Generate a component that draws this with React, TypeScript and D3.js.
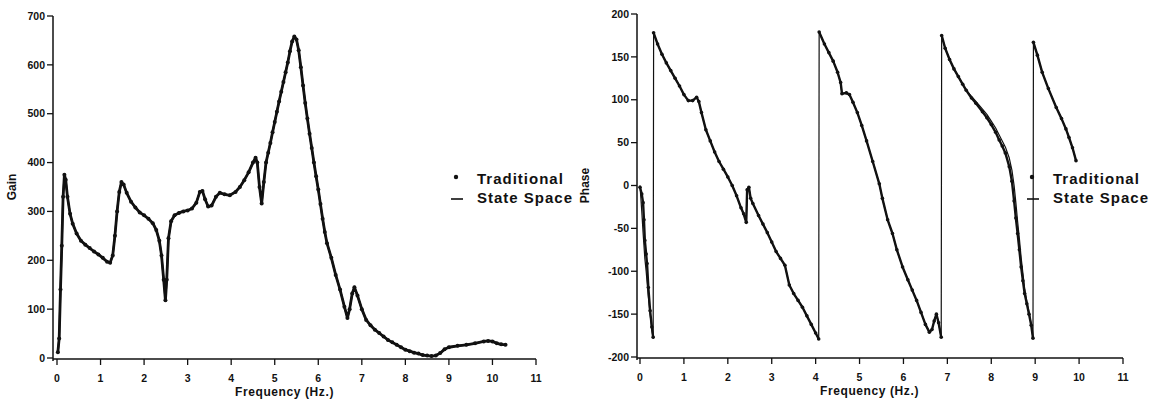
import * as d3 from 'd3';

// Gain vs frequency (Hz)
const gainTraditional: [number, number][] = [
  [0.02, 12], [0.05, 40], [0.08, 140], [0.11, 230], [0.14, 330], [0.17, 375], [0.2, 365],
  [0.24, 330], [0.3, 295], [0.36, 275], [0.45, 255], [0.55, 240], [0.65, 232], [0.75, 225],
  [0.85, 218], [0.95, 212], [1.05, 205], [1.15, 197], [1.22, 195], [1.28, 210], [1.33, 250],
  [1.38, 300], [1.43, 340], [1.48, 360], [1.53, 355], [1.6, 338], [1.7, 320], [1.8, 308],
  [1.9, 298], [2.0, 292], [2.1, 285], [2.2, 276], [2.28, 262], [2.35, 240], [2.4, 210],
  [2.45, 160], [2.49, 118], [2.52, 160], [2.56, 245], [2.62, 280], [2.7, 292], [2.8, 297],
  [2.9, 300], [3.0, 302], [3.1, 306], [3.2, 318], [3.28, 340], [3.34, 342], [3.4, 325],
  [3.47, 310], [3.55, 312], [3.65, 330], [3.74, 338], [3.85, 335], [3.97, 333], [4.1, 340],
  [4.2, 350], [4.3, 364], [4.4, 380], [4.5, 400], [4.56, 410], [4.6, 400], [4.65, 350],
  [4.7, 316], [4.75, 360], [4.8, 400], [4.85, 420], [4.9, 440], [4.95, 462], [5.0, 483],
  [5.05, 504], [5.1, 525], [5.15, 545], [5.2, 565], [5.25, 585], [5.3, 605], [5.35, 628],
  [5.4, 648], [5.45, 658], [5.5, 652], [5.55, 630], [5.6, 595], [5.65, 558], [5.7, 522],
  [5.75, 490], [5.8, 459], [5.85, 430], [5.9, 400], [5.95, 372], [6.0, 345], [6.05, 315],
  [6.1, 285], [6.15, 258], [6.2, 235], [6.3, 205], [6.4, 170], [6.5, 140], [6.6, 105],
  [6.67, 82], [6.72, 100], [6.78, 132], [6.83, 145], [6.9, 128], [7.0, 100], [7.1, 78],
  [7.2, 67], [7.3, 58], [7.4, 51], [7.5, 44], [7.6, 37], [7.7, 32], [7.8, 27], [7.9, 22],
  [8.0, 17], [8.1, 14], [8.2, 11], [8.3, 9], [8.4, 6], [8.5, 5], [8.6, 4], [8.7, 5],
  [8.8, 10], [8.9, 18], [9.0, 22], [9.2, 25], [9.4, 27], [9.6, 30], [9.8, 34], [9.9, 35],
  [10.0, 34], [10.1, 30], [10.2, 28], [10.3, 27],
];
// the two gain curves sit on top of each other
const gainStateSpace: [number, number][] = gainTraditional;

// Phase (deg) vs frequency (Hz)
const phaseTraditional: [number, number][] = [
  [0.0, -2], [0.04, -10], [0.07, -20], [0.09, -40], [0.11, -64], [0.14, -80], [0.16, -91],
  [0.19, -119], [0.23, -146], [0.27, -165], [0.3, -177], [0.31, 178], [0.4, 165], [0.5, 153],
  [0.6, 143], [0.7, 134], [0.8, 125], [0.9, 116], [1.0, 106], [1.1, 99], [1.2, 99],
  [1.29, 103], [1.34, 98], [1.4, 85], [1.5, 65], [1.6, 52], [1.7, 39], [1.8, 28], [1.9, 19],
  [2.0, 10], [2.1, 0], [2.2, -12], [2.3, -26], [2.36, -33], [2.42, -43], [2.44, -5],
  [2.48, -2], [2.52, -15], [2.57, -21], [2.7, -35], [2.8, -45], [2.9, -55], [3.0, -66],
  [3.1, -77], [3.2, -85], [3.3, -93], [3.4, -116], [3.5, -126], [3.6, -134], [3.7, -142],
  [3.8, -152], [3.9, -162], [4.0, -172], [4.07, -179], [4.08, 179], [4.2, 165], [4.3, 155],
  [4.4, 145], [4.5, 132], [4.57, 120], [4.6, 107], [4.7, 108], [4.77, 106], [4.85, 97],
  [4.95, 85], [5.05, 70], [5.16, 52], [5.3, 28], [5.45, 2], [5.52, -15], [5.64, -40],
  [5.75, -56], [5.85, -75], [5.98, -95], [6.1, -110], [6.2, -122], [6.3, -134], [6.4, -148],
  [6.5, -162], [6.59, -171], [6.65, -168], [6.7, -158], [6.75, -150], [6.8, -160],
  [6.86, -177], [6.87, 175], [6.95, 160], [7.05, 147], [7.15, 136], [7.25, 127], [7.35, 118],
  [7.43, 111], [7.55, 102], [7.65, 96], [7.8, 86], [7.9, 79], [8.0, 71], [8.1, 62],
  [8.18, 53], [8.25, 46], [8.32, 38], [8.41, 22], [8.47, 5], [8.52, -18], [8.56, -38],
  [8.6, -56], [8.64, -75], [8.68, -95], [8.72, -111], [8.76, -126], [8.81, -138],
  [8.86, -150], [8.91, -163], [8.95, -178], [8.96, 167], [9.05, 152], [9.16, 132],
  [9.3, 113], [9.48, 91], [9.6, 78], [9.7, 66], [9.77, 56], [9.85, 44], [9.93, 29],
];
const phaseStateSpace: [number, number][] = [
  [0.0, 0], [0.04, -30], [0.07, -55], [0.09, -70], [0.11, -85], [0.14, -100], [0.16, -112],
  [0.19, -130], [0.23, -150], [0.27, -168], [0.3, -178], [0.31, 178], [0.4, 165], [0.5, 153],
  [0.6, 143], [0.7, 134], [0.8, 125], [0.9, 116], [1.0, 106], [1.1, 99], [1.2, 99],
  [1.29, 103], [1.34, 98], [1.4, 85], [1.5, 65], [1.6, 52], [1.7, 39], [1.8, 28], [1.9, 19],
  [2.0, 10], [2.1, 0], [2.2, -12], [2.3, -26], [2.36, -33], [2.42, -43], [2.44, -5],
  [2.48, -2], [2.52, -15], [2.57, -21], [2.7, -35], [2.8, -45], [2.9, -55], [3.0, -66],
  [3.1, -77], [3.2, -85], [3.3, -93], [3.4, -116], [3.5, -126], [3.6, -134], [3.7, -142],
  [3.8, -152], [3.9, -162], [4.0, -172], [4.07, -179], [4.08, 179], [4.2, 165], [4.3, 155],
  [4.4, 145], [4.5, 132], [4.57, 120], [4.6, 107], [4.7, 108], [4.77, 106], [4.85, 97],
  [4.95, 85], [5.05, 70], [5.16, 52], [5.3, 28], [5.45, 2], [5.52, -15], [5.64, -40],
  [5.75, -56], [5.85, -75], [5.98, -95], [6.1, -110], [6.2, -122], [6.3, -134], [6.4, -148],
  [6.5, -162], [6.59, -171], [6.65, -168], [6.7, -158], [6.75, -150], [6.8, -160],
  [6.86, -177], [6.87, 175], [6.95, 160], [7.05, 147], [7.15, 136], [7.25, 127], [7.35, 118],
  [7.43, 111], [7.55, 104], [7.65, 98], [7.8, 89], [7.9, 83], [8.0, 75], [8.1, 67],
  [8.18, 59], [8.25, 52], [8.32, 45], [8.41, 32], [8.47, 18], [8.52, 0], [8.56, -20],
  [8.6, -42], [8.64, -62], [8.68, -84], [8.72, -102], [8.76, -120], [8.81, -135],
  [8.86, -148], [8.91, -162], [8.95, -178], [8.96, 167], [9.05, 152], [9.16, 132],
  [9.3, 113], [9.48, 91], [9.6, 78], [9.7, 66], [9.77, 56], [9.85, 44], [9.93, 29],
];

const freqTicks = [0, 1, 2, 3, 4, 5, 6, 7, 8, 9, 10, 11];
const gainTicks = [0, 100, 200, 300, 400, 500, 600, 700];
const phaseTicks = [-200, -150, -100, -50, 0, 50, 100, 150, 200];
const legendLabels = ['Traditional', 'State Space'];

const FONT = '"Liberation Sans", Arial, sans-serif';
const INK = '#111';

// split a series where the phase wraps, so the dotted trace has no jump lines
function splitAtWraps(pts: [number, number][]) {
  const out: [number, number][][] = [[]];
  pts.forEach((d, i) => {
    if (i > 0 && Math.abs(d[1] - pts[i - 1][1]) > 180) out.push([]);
    out[out.length - 1].push(d);
  });
  return out;
}

interface PanelProps {
  axisX: number;
  xRange: [number, number];
  yDomain: [number, number];
  yRange: [number, number];
  yTicks: number[];
  yLabel: string;
  yLabelX: number;
  dots: [number, number][];
  line: [number, number][];
  legendX: number;
  dotR: number;
  dotTrace: number;
  lineW: number;
}

function Panel(p: PanelProps) {
  const x = d3.scaleLinear().domain([0, 11]).range(p.xRange);
  const y = d3.scaleLinear().domain(p.yDomain).range(p.yRange);
  const line = d3.line<[number, number]>().x(d => x(d[0])).y(d => y(d[1]));
  const base = p.yRange[0];
  const top = p.yRange[1];
  const xMid = (x(0) + x(11)) / 2 - 12;

  return (
    <g fontFamily={FONT} fill={INK}>
      {/* y axis */}
      <line x1={p.axisX} x2={p.axisX} y1={top} y2={base + 3} stroke={INK} strokeWidth={1.5} />
      {p.yTicks.map(t => (
        <g key={t}>
          <line x1={p.axisX - 6} x2={p.axisX} y1={y(t)} y2={y(t)} stroke={INK} strokeWidth={1.3} />
          <text x={p.axisX - 8} y={y(t)} dy="0.35em" textAnchor="end" fontSize={10.5} fontWeight="bold">
            {t}
          </text>
        </g>
      ))}
      <text
        transform={`translate(${p.yLabelX},${(top + base) / 2}) rotate(-90)`}
        textAnchor="middle"
        fontSize={12}
        fontWeight="bold"
      >
        {p.yLabel}
      </text>

      {/* x axis */}
      <line x1={p.axisX} x2={x(11)} y1={base + 1} y2={base + 1} stroke={INK} strokeWidth={1.5} />
      {freqTicks.map(t => (
        <g key={t}>
          <line x1={x(t)} x2={x(t)} y1={base + 1} y2={base + 7} stroke={INK} strokeWidth={1.3} />
          <text x={x(t)} y={base + 24} textAnchor="middle" fontSize={10.5} fontWeight="bold">
            {t}
          </text>
        </g>
      ))}
      <text x={xMid} y={base + 38} textAnchor="middle" fontSize={12} fontWeight="bold" letterSpacing={0.6}>
        Frequency (Hz.)
      </text>

      {/* curves */}
      <path d={line(p.line) || ''} fill="none" stroke={INK} strokeWidth={p.lineW} strokeLinejoin="round" />
      {splitAtWraps(p.dots).map((seg, i) => (
        <path key={i} d={line(seg) || ''} fill="none" stroke={INK} strokeWidth={p.dotTrace} strokeLinejoin="round" />
      ))}
      {p.dots.map((d, i) => (
        <circle key={i} cx={x(d[0])} cy={y(d[1])} r={p.dotR} fill={INK} />
      ))}

      {/* legend */}
      <circle cx={p.legendX} cy={177} r={2.2} fill={INK} />
      <line x1={p.legendX - 5} x2={p.legendX + 7} y1={199} y2={199} stroke={INK} strokeWidth={1.6} />
      {legendLabels.map((l, i) => (
        <text key={l} x={p.legendX + 21} y={184 + i * 19} fontSize={15} fontWeight="bold" letterSpacing={1}>
          {l}
        </text>
      ))}
    </g>
  );
}

export default function App() {
  return (
    <svg
      width={1151}
      height={402}
      style={{ position: 'absolute', left: 0, top: 0, background: '#fff' }}
    >
      <Panel
        axisX={53}
        xRange={[57, 536]}
        yDomain={[0, 700]}
        yRange={[358, 16]}
        yTicks={gainTicks}
        yLabel="Gain"
        yLabelX={16}
        dots={gainTraditional}
        line={gainStateSpace}
        legendX={456}
        dotR={2}
        dotTrace={2.8}
        lineW={1.8}
      />
      <Panel
        axisX={637}
        xRange={[640, 1123]}
        yDomain={[-200, 200]}
        yRange={[357, 14]}
        yTicks={phaseTicks}
        yLabel="Phase"
        yLabelX={589}
        dots={phaseTraditional}
        line={phaseStateSpace}
        legendX={1032}
        dotR={1.8}
        dotTrace={2.4}
        lineW={1.2}
      />
    </svg>
  );
}
